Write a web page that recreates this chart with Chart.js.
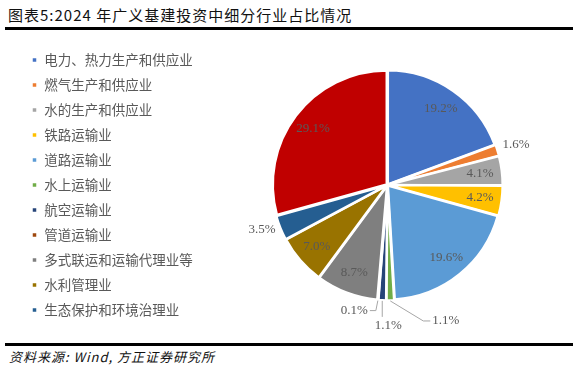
<!DOCTYPE html>
<html>
<head>
<meta charset="utf-8">
<script src="https://cdn.jsdelivr.net/npm/chart.js@4.4.1/dist/chart.umd.min.js"></script>
<style>
  body { margin: 0; width: 580px; height: 373px; background: #fff; position: relative; overflow: hidden; font-family: "Noto Sans CJK SC", sans-serif; }
  #title { position: absolute; left: 8px; top: 4px; font-size: 15px; letter-spacing: 1px; color: #111; white-space: nowrap; }
  .rule { position: absolute; left: 5px; width: 568px; height: 3px; background: #000; }
  #chart { position: absolute; left: 0; top: 38px; }
  #src { position: absolute; left: 9px; top: 347px; font-size: 13px; letter-spacing: 1px; font-style: italic; color: #111; white-space: nowrap; }
</style>
</head>
<body>
<div id="title">图表5:2024 年广义基建投资中细分行业占比情况</div>
<div class="rule" style="top:27px"></div>
<canvas id="chart" width="580" height="300"></canvas>
<div class="rule" style="top:343px"></div>
<div id="src">资料来源: Wind, 方正证券研究所</div>

<script>
// 行业分类（最后一项在原图图例中未列出）
const categories = [
  "电力、热力生产和供应业", "燃气生产和供应业", "水的生产和供应业", "铁路运输业",
  "道路运输业", "水上运输业", "航空运输业", "管道运输业",
  "多式联运和运输代理业等", "水利管理业", "生态保护和环境治理业", "其他"
];
const shares = [19.2, 1.6, 4.1, 4.2, 19.6, 1.1, 1.1, 0.1, 8.7, 7.0, 3.5, 29.1];
const colors = [
  "#4472C4", "#ED7D31", "#A5A5A5", "#FFC000", "#5B9BD5", "#70AD47",
  "#264478", "#9E480E", "#7F7F7F", "#997300", "#255E91", "#C00000"
];
const legendCount = 11;

// 标签放置方式: in = 扇区内, out = 扇区外, 其余带引导线
const labelMode = ["in", "out", "in", "in", "in", "leadR", "leadD", "leadL", "in", "in", "out", "in"];

const pieLabels = {
  id: "pieLabels",
  afterDatasetsDraw(chart) {
    const ctx = chart.ctx;
    const meta = chart.getDatasetMeta(0);
    ctx.save();
    ctx.font = "13px 'Liberation Serif', serif";
    ctx.fillStyle = "#595959";
    ctx.strokeStyle = "#A6A6A6";
    ctx.lineWidth = 1;
    meta.data.forEach((arc, i) => {
      const p = arc.getProps(["x", "y", "startAngle", "endAngle", "outerRadius"], true);
      const mid = (p.startAngle + p.endAngle) / 2;
      const cx = Math.cos(mid), cy = Math.sin(mid);
      const text = shares[i].toFixed(1) + "%";
      const mode = labelMode[i];
      ctx.textBaseline = "middle";
      if (mode === "in") {
        ctx.textAlign = "center";
        const r = p.outerRadius * 0.82;
        ctx.fillText(text, p.x + cx * r, p.y + cy * r);
      } else if (mode === "out") {
        ctx.textAlign = "center";
        const r = p.outerRadius + 21;
        ctx.fillText(text, p.x + cx * r, p.y + cy * r - (cx < 0 ? 6 : 0));
      } else {
        const ex = p.x + cx * (p.outerRadius + 2), ey = p.y + cy * (p.outerRadius + 2);
        ctx.beginPath();
        ctx.moveTo(ex, ey);
        if (mode === "leadR") {
          ctx.lineTo(ex + 33, ey + 20);
          ctx.lineTo(ex + 40, ey + 20);
          ctx.stroke();
          ctx.textAlign = "left";
          ctx.fillText(text, ex + 42, ey + 20);
        } else if (mode === "leadD") {
          ctx.lineTo(ex, ey + 16);
          ctx.stroke();
          ctx.textAlign = "center";
          ctx.fillText(text, ex + 6, ey + 25);
        } else {
          ctx.lineTo(ex - 2, ey + 10);
          ctx.lineTo(ex - 8, ey + 10);
          ctx.stroke();
          ctx.textAlign = "right";
          ctx.fillText(text, ex - 10, ey + 10);
        }
      }
    });
    ctx.restore();
  }
};

new Chart(document.getElementById("chart"), {
  type: "pie",
  data: {
    labels: categories,
    datasets: [{
      data: shares,
      backgroundColor: colors,
      borderColor: "#ffffff",
      borderWidth: 2.5,
      offset: 3,
      radius: 114
    }]
  },
  options: {
    responsive: false,
    animation: false,
    layout: { padding: { left: 20, right: 8, top: 0, bottom: 6 } },
    plugins: {
      tooltip: { enabled: false },
      legend: {
        position: "left",
        labels: {
          boxWidth: 6, boxHeight: 6, padding: 11.5,
          color: "#595959",
          font: { family: "'Noto Sans CJK SC', sans-serif", size: 13.5 },
          filter: item => item.index < legendCount
        }
      }
    }
  },
  plugins: [pieLabels]
});
</script>
</body>
</html>
